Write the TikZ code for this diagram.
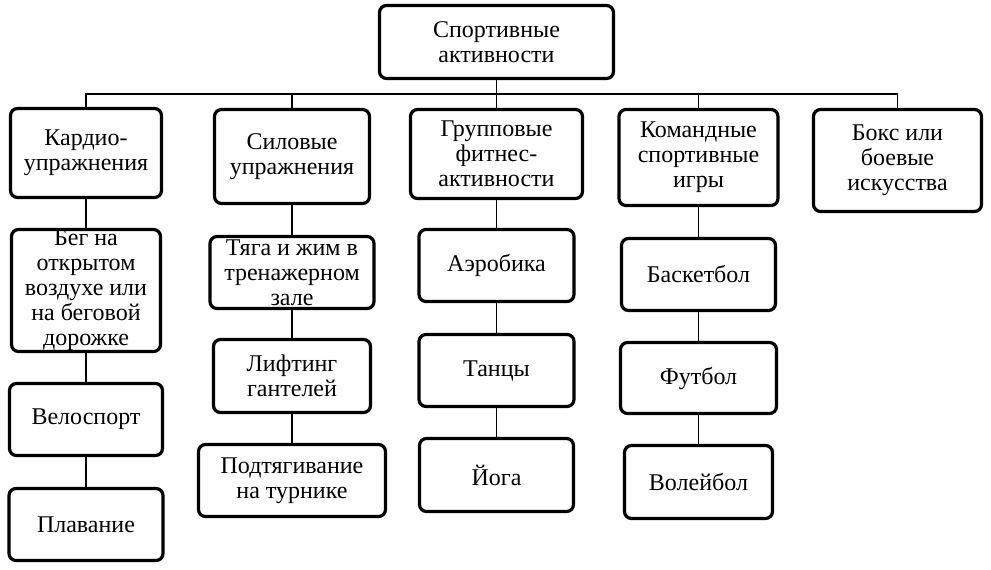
\documentclass[tikz,border=0pt]{standalone}
\usepackage{fontspec}
\setmainfont{Liberation Serif}
\begin{document}
\begin{tikzpicture}[x=1pt,y=-1pt,
  box/.style={draw=black, line width=3.2pt, rounded corners=7pt, fill=white,
    align=center, inner sep=0pt, font=\fontsize{24}{25}\selectfont},
  link/.style={draw=black, line width=1.4pt}]
\fill[white] (0,0) rectangle (991,570);
\useasboundingbox (0,0) rectangle (991,570);
% level 0
\node[box, minimum width=234pt, minimum height=73pt] (top) at (496.5,42) {Спортивные\\активности};
% level 1
\node[box, minimum width=151pt, minimum height=89pt] (kardio) at (86,153) {Кардио-\\упражнения};
\node[box, minimum width=155pt, minimum height=94pt] (silov) at (292,156.5) {Силовые\\упражнения};
\node[box, minimum width=172pt, minimum height=89pt] (grup) at (496.5,154) {Групповые\\фитнес-\\активности};
\node[box, minimum width=159pt, minimum height=96pt] (koman) at (698.5,157.5) {Командные\\спортивные\\игры};
\node[box, minimum width=168pt, minimum height=102pt] (boks) at (897.5,160.5) {Бокс или\\боевые\\искусства};
% level 2 – cardio
\node[box, minimum width=149pt, minimum height=122pt] (beg) at (86,290.5) {Бег на\\открытом\\воздухе или\\на беговой\\дорожке};
\node[box, minimum width=153pt, minimum height=72pt] (velo) at (86,419.5) {Велоспорт};
\node[box, minimum width=154pt, minimum height=72pt] (plav) at (86,524.5) {Плавание};
% strength
\node[box, minimum width=164pt, minimum height=72pt] (tyaga) at (292,272.5) {Тяга и жим в\\тренажерном\\зале};
\node[box, minimum width=157pt, minimum height=73pt] (lift) at (292,376) {Лифтинг\\гантелей};
\node[box, minimum width=187pt, minimum height=72pt] (podt) at (292,480.5) {Подтягивание\\на турнике};
% group fitness
\node[box, minimum width=155pt, minimum height=72pt] (aero) at (496.5,265.5) {Аэробика};
\node[box, minimum width=155pt, minimum height=72pt] (tancy) at (496.5,370.5) {Танцы};
\node[box, minimum width=154pt, minimum height=73pt] (yoga) at (496.5,475) {Йога};
% team games
\node[box, minimum width=154pt, minimum height=72pt] (bask) at (698.5,274.5) {Баскетбол};
\node[box, minimum width=156pt, minimum height=71pt] (fut) at (698.5,378) {Футбол};
\node[box, minimum width=148pt, minimum height=73pt] (vol) at (698.5,482) {Волейбол};
% connectors
\coordinate (bus) at (496.5,94);
\draw[link] (top.south) -- (top.south |- bus);
\draw[link] (kardio.north) |- (boks.north |- bus) -- (boks.north);
\draw[link] (silov.north) -- (silov.north |- bus);
\draw[link] (grup.north) -- (grup.north |- bus);
\draw[link] (koman.north) -- (koman.north |- bus);
\draw[link] (kardio.south) -- (beg.north);
\draw[link] (beg.south) -- (velo.north);
\draw[link] (velo.south) -- (plav.north);
\draw[link] (silov.south) -- (tyaga.north);
\draw[link] (tyaga.south) -- (lift.north);
\draw[link] (lift.south) -- (podt.north);
\draw[link] (grup.south) -- (aero.north);
\draw[link] (aero.south) -- (tancy.north);
\draw[link] (tancy.south) -- (yoga.north);
\draw[link] (koman.south) -- (bask.north);
\draw[link] (bask.south) -- (fut.north);
\draw[link] (fut.south) -- (vol.north);
\end{tikzpicture}
\end{document}
